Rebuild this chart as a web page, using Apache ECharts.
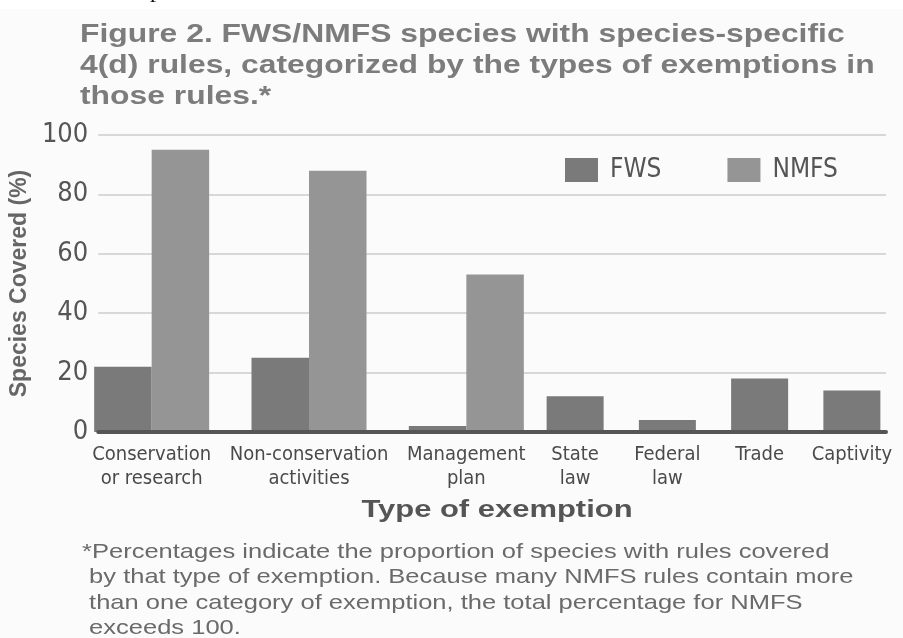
<!DOCTYPE html>
<html>
<head>
<meta charset="utf-8">
<script src="https://cdn.jsdelivr.net/npm/echarts@6/dist/echarts.min.js"></script>
<style>
  html, body { margin: 0; padding: 0; background: #fbfbfb; }
  #chart { width: 903px; height: 638px; }
</style>
</head>
<body>
<div id="chart"></div>
<script>
  // 数据
  const categories = ['Conservation\nor research', 'Non-conservation\nactivities', 'Management\nplan', 'State\nlaw', 'Federal\nlaw', 'Trade', 'Captivity']
  const fwsValues = [22, 25, 2, 12, 4, 18, 14]
  const nmfsValues = [95, 88, 53, 0, 0, 0, 0]
  const yTicks = [0, 20, 40, 60, 80, 100]

  const titleText = 'Figure 2. FWS/NMFS species with species-specific\n4(d) rules, categorized by the types of exemptions in\nthose rules.*'
  const noteText = '*Percentages indicate the proportion of species with rules covered\n by that type of exemption. Because many NMFS rules contain more\n than one category of exemption, the total percentage for NMFS\n exceeds 100.'

  const narrow = "'Liberation Sans Narrow', 'DejaVu Sans Condensed', sans-serif"
  const sans = "'Liberation Sans', Arial, sans-serif"
  const fwsColor = '#7a7a7a'
  const nmfsColor = '#959595'

  // 有 NMFS 数据的类别成对显示，其余只显示 FWS
  const pairedIdx = categories.map((c, i) => i).filter(i => nmfsValues[i] > 0)
  const singleIdx = categories.map((c, i) => i).filter(i => !(nmfsValues[i] > 0))

  const chart = echarts.init(document.getElementById('chart'))

  const hiddenY = (i) => ({
    type: 'value', gridIndex: i, min: yTicks[0], max: yTicks[yTicks.length - 1], show: false
  })
  const labelX = (i, data) => ({
    type: 'category',
    gridIndex: i,
    data: data,
    axisLine: { show: false },
    axisTick: { show: false },
    axisLabel: {
      interval: 0, margin: 11, fontSize: 20, lineHeight: 24, color: '#4a4a4a', fontFamily: narrow
    }
  })

  const option = {
    backgroundColor: '#fbfbfb',
    animation: false,
    // 原图文字横向被拉宽，用 scaleX 模拟
    graphic: [
      {
        type: 'rect',
        shape: { x: 0, y: 0, width: 903, height: 9 },
        style: { fill: '#ffffff' },
        z: -1
      },
      {
        type: 'text',
        x: 138,
        y: -21,
        style: { text: 'oper', font: "24px 'Liberation Serif', serif", fill: '#111', verticalAlign: 'top' }
      },
      {
        type: 'text',
        x: 80,
        y: 19,
        scaleX: 1.225,
        style: {
          text: titleText, font: 'bold 26px ' + sans, lineHeight: 31, fill: '#7c7c7c', verticalAlign: 'top'
        }
      },
      {
        type: 'text',
        x: 82,
        y: 539,
        scaleX: 1.215,
        style: {
          text: noteText, font: '21px ' + sans, lineHeight: 25.5, fill: '#6a6a6a', verticalAlign: 'top'
        }
      },
      {
        type: 'text',
        x: 497,
        y: 510,
        scaleX: 1.29,
        style: {
          text: 'Type of exemption', font: 'bold 24px ' + sans, fill: '#555', align: 'center', verticalAlign: 'middle'
        }
      }
    ],
    legend: {
      data: ['FWS', 'NMFS'],
      left: 565,
      top: 157,
      padding: 0,
      icon: 'rect',
      itemWidth: 33,
      itemHeight: 24,
      itemGap: 66,
      textStyle: { fontSize: 26, color: '#555', fontFamily: narrow, padding: [0, 0, 0, 7] }
    },
    grid: [
      { left: 90, right: 17, top: 135, bottom: 206 },
      { left: 73, right: 358, top: 135, bottom: 206 },
      { left: 529, right: 5, top: 135, bottom: 206 }
    ],
    xAxis: [
      {
        type: 'category',
        gridIndex: 0,
        data: categories,
        z: 10,
        axisLine: { lineStyle: { color: '#555', width: 4 } },
        axisTick: { show: false },
        axisLabel: { show: false }
      },
      labelX(1, pairedIdx.map(i => categories[i])),
      labelX(2, singleIdx.map(i => categories[i]))
    ],
    yAxis: [
      {
        type: 'value',
        gridIndex: 0,
        min: yTicks[0],
        max: yTicks[yTicks.length - 1],
        interval: yTicks[1] - yTicks[0],
        axisLine: { show: false },
        axisTick: { show: false },
        axisLabel: { fontSize: 27, color: '#555', fontFamily: narrow, margin: 10 },
        splitLine: { lineStyle: { color: '#d8d8d8', width: 2 } },
        name: 'Species Covered (%)',
        nameLocation: 'middle',
        nameGap: 49,
        nameTextStyle: {
          fontFamily: sans,
          fontWeight: 'bold',
          fontSize: 23,
          color: '#666'
        }
      },
      hiddenY(1),
      hiddenY(2)
    ],
    series: [
      {
        name: 'FWS',
        type: 'bar',
        xAxisIndex: 1,
        yAxisIndex: 1,
        barWidth: 57.5,
        barGap: '0%',
        itemStyle: { color: fwsColor },
        data: pairedIdx.map(i => fwsValues[i])
      },
      {
        name: 'NMFS',
        type: 'bar',
        xAxisIndex: 1,
        yAxisIndex: 1,
        barWidth: 57.5,
        barGap: '0%',
        itemStyle: { color: nmfsColor },
        data: pairedIdx.map(i => nmfsValues[i])
      },
      {
        name: 'FWS',
        type: 'bar',
        xAxisIndex: 2,
        yAxisIndex: 2,
        barWidth: 57,
        itemStyle: { color: fwsColor },
        data: singleIdx.map(i => fwsValues[i])
      }
    ]
  }

  chart.setOption(option)
</script>
</body>
</html>
